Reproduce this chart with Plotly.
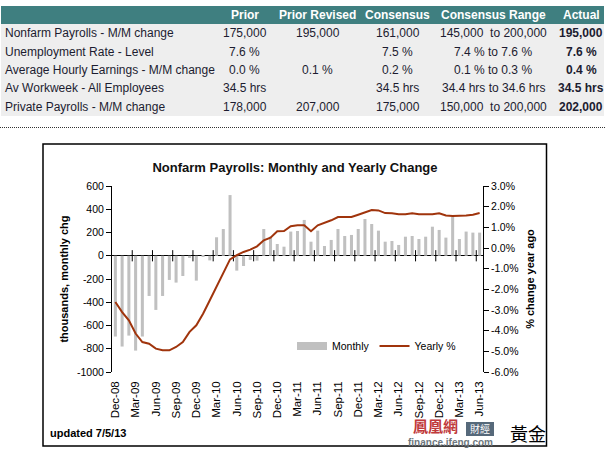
import pandas as pd
import plotly.graph_objects as go

# ---------------- data ----------------
months = pd.date_range("2008-12-01", periods=55, freq="MS").strftime("%b-%y").tolist()

monthly_chg = [-695, -781, -687, -816, -695, -346, -466, -346, -208, -231,
               -174, -19, -214, -10, -40, 159, 230, 522, -128, -88,
               -36, -42, 230, 165, 101, 78, 208, 213, 308, 121,
               216, 84, 136, 230, 170, 179, 230, 316, 273, 216,
               121, 127, 93, 164, 170, 144, 164, 250, 222, 156,
               336, 144, 208, 199, 199]

yearly_pct = [-2.61, -3.10, -3.50, -4.14, -4.55, -4.63, -4.87, -4.95, -4.95, -4.79,
              -4.55, -4.06, -3.74, -3.18, -2.53, -1.89, -1.24, -0.55, -0.35, -0.19,
              -0.08, 0.08, 0.37, 0.50, 0.81, 0.82, 1.05, 1.10, 1.10, 0.81,
              1.10, 1.21, 1.34, 1.50, 1.50, 1.50, 1.61, 1.74, 1.84, 1.82,
              1.69, 1.68, 1.63, 1.63, 1.68, 1.63, 1.63, 1.63, 1.68, 1.57,
              1.55, 1.55, 1.57, 1.61, 1.69]

x_tick_labels = ["Dec-08", "Mar-09", "Jun-09", "Sep-09", "Dec-09", "Mar-10", "Jun-10",
                 "Sep-10", "Dec-10", "Mar-11", "Jun-11", "Sep-11", "Dec-11", "Mar-12",
                 "Jun-12", "Sep-12", "Dec-12", "Mar-13", "Jun-13"]
left_ticks = [600, 400, 200, 0, -200, -400, -600, -800, -1000]
right_ticks = [3.0, 2.0, 1.0, 0.0, -1.0, -2.0, -3.0, -4.0, -5.0, -6.0]

table_header = ["Prior", "Prior Revised", "Consensus", "Consensus Range", "Actual"]
table_rows = ["Nonfarm Payrolls - M/M change", "Unemployment Rate - Level",
              "Average Hourly Earnings - M/M change", "Av Workweek - All Employees",
              "Private Payrolls - M/M change"]
col_prior = ["175,000", "7.6 %", "0.0 %", "34.5 hrs", "178,000"]
col_prior_rev = ["195,000", "", "0.1 %", "", "207,000"]
col_consensus = ["161,000", "7.5 %", "0.2 %", "34.5 hrs", "175,000"]
col_range = ["145,000  to 200,000", "7.4 % to 7.6 %", "0.1 % to 0.3 %",
             "34.4 hrs to 34.6 hrs", "150,000  to 200,000"]
col_actual = ["195,000", "7.6 %", "0.4 %", "34.5 hrs", "202,000"]

# ---------------- layout geometry (pixels) ----------------
W, H = 608, 449
L, R, T, B = 112, 483, 186, 372
FONT = "Liberation Sans, Arial, sans-serif"


def px(x):
    return (x - L) / (R - L)


def py(y):
    return (B - y) / (B - T)


idx = list(range(len(months)))
tick_idx = [i for i in idx if months[i] in x_tick_labels]
boundary_x = [i - 0.5 for i in range(3, len(months), 3)]

fig = go.Figure()

fig.add_trace(go.Bar(x=idx, y=monthly_chg, name="Monthly", marker_color="#C0C0C0",
                     marker_line_width=0, showlegend=False, legendgroup="m"))
# legend swatch for Monthly
fig.add_trace(go.Scatter(x=[None], y=[None], mode="lines", name="Monthly",
                         line=dict(color="#C0C0C0", width=8), legendgroup="m"))
fig.add_trace(go.Scatter(x=idx, y=yearly_pct, mode="lines", name="Yearly %",
                         line=dict(color="#A0340C", width=2), yaxis="y2"))
# category boundary tick marks on the zero line
fig.add_trace(go.Scatter(x=boundary_x, y=[0] * len(boundary_x), mode="markers",
                         marker=dict(symbol="line-ns", size=8,
                                     line=dict(color="black", width=1)),
                         showlegend=False, hoverinfo="skip"))

shapes = []
annotations = []

# ---- table ----
shapes.append(dict(type="rect", xref="paper", yref="paper", layer="below",
                   x0=px(1), x1=px(604), y0=py(24), y1=py(6),
                   fillcolor="#3F7F80", line_width=0))
shapes.append(dict(type="rect", xref="paper", yref="paper", layer="below",
                   x0=px(1), x1=px(604), y0=py(116), y1=py(24),
                   fillcolor="#EEEEEE", line_width=0))
shapes.append(dict(type="line", xref="paper", yref="paper",
                   x0=px(0), x1=px(606), y0=py(127.5), y1=py(127.5),
                   line=dict(color="#333333", width=1, dash="1px,1px")))

col_centers = [244.5, 317.5, 397.5, 493, 581]
header_y = 15
row_y = [33.3, 51.7, 70, 88.3, 106.7]
for cx, h in zip(col_centers, table_header):
    annotations.append(dict(x=px(cx), y=py(header_y), xref="paper", yref="paper",
                            text=h, showarrow=False, xanchor="center", yanchor="middle",
                            font=dict(family=FONT, size=12, color="white", weight="bold")))
cols = [col_prior, col_prior_rev, col_consensus, col_range, col_actual]
for r, label in enumerate(table_rows):
    annotations.append(dict(x=px(3), y=py(row_y[r]), xref="paper", yref="paper",
                            text=label, showarrow=False, xanchor="left", yanchor="middle",
                            font=dict(family=FONT, size=12, color="#1C1C30")))
    for c, col in enumerate(cols):
        if col[r]:
            annotations.append(dict(x=px(col_centers[c]), y=py(row_y[r]),
                                    xref="paper", yref="paper", text=col[r],
                                    showarrow=False, xanchor="center", yanchor="middle",
                                    font=dict(family=FONT, size=12, color="#1C1C30",
                                              weight="bold" if c == 4 else "normal")))

# ---- chart frame ----
shapes.append(dict(type="rect", xref="paper", yref="paper",
                   x0=px(43), x1=px(546.5), y0=py(446), y1=py(144),
                   line=dict(color="black", width=1.5)))

annotations.append(dict(x=px(48), y=py(433), xref="paper", yref="paper",
                        text="updated 7/5/13", showarrow=False, xanchor="left",
                        yanchor="middle",
                        font=dict(family=FONT, size=11, color="black", weight="bold")))

# ---- logo ----
annotations.append(dict(x=px(435), y=py(425.5), xref="paper", yref="paper",
                        text="鳳凰網", showarrow=False, xanchor="center", yanchor="middle",
                        font=dict(family="Noto Sans CJK TC", size=15, color="#C0393B",
                                  weight="bold")))
shapes.append(dict(type="rect", xref="paper", yref="paper",
                   x0=px(466), x1=px(494), y0=py(436), y1=py(422),
                   fillcolor="#56697A", line_width=0))
annotations.append(dict(x=px(480), y=py(428), xref="paper", yref="paper",
                        text="財經", showarrow=False, xanchor="center", yanchor="middle",
                        font=dict(family="Noto Sans CJK TC", size=10, color="white")))
annotations.append(dict(x=px(450.5), y=py(442.5), xref="paper", yref="paper",
                        text="finance.ifeng.com", showarrow=False, xanchor="center",
                        yanchor="middle",
                        font=dict(family=FONT, size=10, color="#6E7880", weight="bold")))
annotations.append(dict(x=px(528), y=py(433), xref="paper", yref="paper",
                        text="黃金", showarrow=False, xanchor="center", yanchor="middle",
                        font=dict(family="Noto Sans CJK TC", size=18, color="black")))

fig.update_layout(
    width=W, height=H, autosize=False,
    margin=dict(l=L, r=W - R, t=T, b=H - B, pad=0),
    paper_bgcolor="white", plot_bgcolor="white",
    font=dict(family=FONT, color="black"),
    bargap=0.55,
    title=dict(text="Nonfarm Payrolls: Monthly and Yearly Change",
               xref="container", yref="container", x=295 / W, y=1 - 167 / H,
               xanchor="center", yanchor="middle",
               font=dict(family=FONT, size=13, color="#111111", weight="bold")),
    xaxis=dict(range=[-0.5, len(months) - 0.5], tickvals=tick_idx, ticktext=x_tick_labels,
               tickangle=-90, ticks="", showline=False, showgrid=False, zeroline=False,
               ticklabelstandoff=6,
               tickfont=dict(family=FONT, size=11.5, color="black")),
    yaxis=dict(range=[-1000, 600], tickvals=left_ticks,
               ticktext=[str(v) for v in left_ticks],
               ticks="outside", ticklen=5, tickcolor="black", showline=True,
               linecolor="black", linewidth=1, showgrid=False, zeroline=True,
               zerolinecolor="black", zerolinewidth=1,
               tickfont=dict(family=FONT, size=10.5, color="black"),
               title=dict(text="thousands, monthly chg", standoff=6,
                          font=dict(family=FONT, size=11, color="black", weight="bold"))),
    yaxis2=dict(range=[-6, 3], overlaying="y", side="right", anchor="x",
                tickvals=right_ticks, ticktext=[f"{v:.1f}%" for v in right_ticks],
                ticks="outside", ticklen=5, tickcolor="black", showline=True,
                linecolor="black", linewidth=1, showgrid=False, zeroline=False,
                tickfont=dict(family=FONT, size=10.5, color="black"),
                title=dict(text="% change year ago", standoff=8,
                           font=dict(family=FONT, size=11, color="black", weight="bold"))),
    legend=dict(orientation="h", x=px(292), y=py(346), xanchor="left", yanchor="middle",
                bgcolor="rgba(0,0,0,0)", borderwidth=0,
                font=dict(family=FONT, size=10.5, color="black"),
                itemwidth=30, tracegroupgap=0),
    shapes=shapes,
    annotations=annotations,
)

fig.write_html("out.html", config={"displayModeBar": False},
               post_script="document.body.style.margin='0px';")
